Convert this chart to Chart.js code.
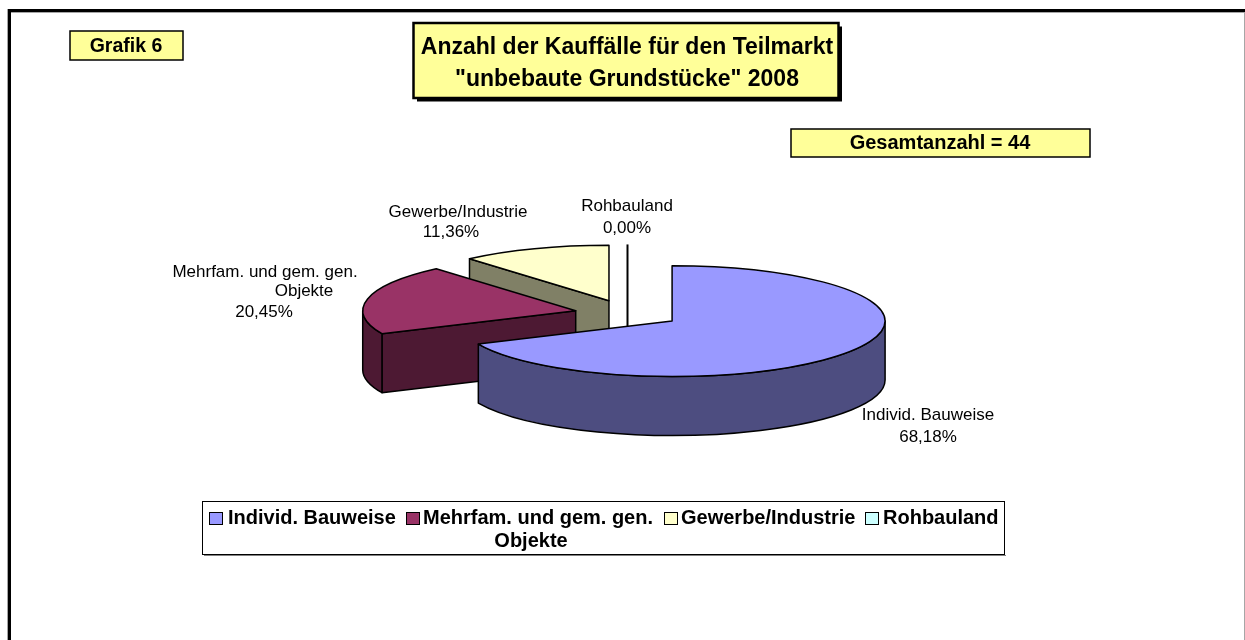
<!DOCTYPE html>
<html lang="de"><head><meta charset="utf-8">
<style>html,body{margin:0;padding:0;background:#fff;overflow:hidden}#w{position:absolute;left:0;top:0;width:1245px;height:640px}</style>
<script src="https://cdn.jsdelivr.net/npm/chart.js@4/dist/chart.umd.min.js"></script>
</head><body><div id="w"><canvas id="c" width="1245" height="640"></canvas></div>
<script>
const categories = ['Individ. Bauweise', 'Mehrfam. und gem. gen. Objekte', 'Gewerbe/Industrie', 'Rohbauland'];
const counts = [30, 9, 5, 0];
const percentLabels = ['68,18%', '20,45%', '11,36%', '0,00%'];
const topColors = ['#9999FF', '#993366', '#FFFFCC', '#CCFFFF'];
const wallColors = ['#4D4D80', '#4D1933', '#808066', '#668080'];
const titleLines = ['Anzahl der Kauffälle für den Teilmarkt', '"unbebaute Grundstücke" 2008'];
const badgeText = 'Grafik 6';
const totalText = 'Gesamtanzahl = 44';

const FONT = '"Liberation Sans", Arial, sans-serif';
const K = 0.26, DEPTH = 59, EXPLODE = 53, RADIUS = 213;
const CX = 627.5, CY = 313.6;

function sliceGeom(arc) {
  const h = (arc.startAngle + arc.endAngle) / 2;
  return { x: CX + Math.cos(h) * EXPLODE, y: CY + Math.sin(h) * EXPLODE * K, r: arc.outerRadius };
}
function rim(g, a, dz) { return [g.x + g.r * Math.cos(a), g.y + g.r * K * Math.sin(a) + (dz || 0)]; }

function poly(ctx, pts, fill) {
  ctx.beginPath();
  pts.forEach((p, i) => i ? ctx.lineTo(p[0], p[1]) : ctx.moveTo(p[0], p[1]));
  ctx.closePath();
  ctx.fillStyle = fill; ctx.fill(); ctx.stroke();
}

const pie3d = {
  id: 'pie3d',
  beforeDatasetDraw(chart, args) {
    const ctx = chart.ctx;
    const arcs = args.meta.data;
    ctx.save();
    ctx.strokeStyle = '#000'; ctx.lineWidth = 1.5; ctx.lineJoin = 'round';
    for (let i = arcs.length - 1; i >= 0; i--) {
      const arc = arcs[i], g = sliceGeom(arc), wall = wallColors[i];
      const s = arc.startAngle, e = arc.endAngle;
      if (e - s < 1e-6) {
        ctx.lineWidth = 2;
        ctx.beginPath(); ctx.moveTo(g.x, g.y + DEPTH); ctx.lineTo(g.x, g.y); ctx.lineTo(...rim(g, s)); ctx.stroke();
        ctx.lineWidth = 1.5;
        continue;
      }
      // radial cut faces that look toward the viewer
      if (-Math.cos(s) > 1e-6) poly(ctx, [[g.x, g.y], rim(g, s), rim(g, s, DEPTH), [g.x, g.y + DEPTH]], wall);
      if (Math.cos(e) > 1e-6) poly(ctx, [[g.x, g.y], rim(g, e), rim(g, e, DEPTH), [g.x, g.y + DEPTH]], wall);
      // outer wall: the part of the rim on the viewer's side
      const a0 = Math.max(s, 0), a1 = Math.min(e, Math.PI);
      if (a1 > a0) {
        ctx.beginPath();
        ctx.ellipse(g.x, g.y, g.r, g.r * K, 0, a0, a1);
        ctx.ellipse(g.x, g.y + DEPTH, g.r, g.r * K, 0, a1, a0, true);
        ctx.closePath();
        ctx.fillStyle = wall; ctx.fill(); ctx.stroke();
      }
      // top face: filled by the library's own arc element, flattened
      ctx.save();
      ctx.translate(g.x, g.y); ctx.scale(1, K); ctx.translate(-arc.x, -arc.y);
      arc.draw(ctx);
      ctx.restore();
      ctx.beginPath();
      ctx.moveTo(g.x, g.y);
      ctx.ellipse(g.x, g.y, g.r, g.r * K, 0, s, e);
      ctx.closePath();
      ctx.stroke();
    }
    ctx.restore();
    return false;
  }
};

function box(ctx, x, y, w, h, fill, lw, shadow) {
  if (shadow) { ctx.fillStyle = '#000'; ctx.fillRect(x + shadow, y + shadow, w, h); }
  ctx.fillStyle = fill; ctx.fillRect(x, y, w, h);
  ctx.strokeStyle = '#000'; ctx.lineWidth = lw; ctx.strokeRect(x, y, w, h);
}
function text(ctx, s, x, y, font, align) {
  ctx.font = font; ctx.textAlign = align || 'center'; ctx.textBaseline = 'middle'; ctx.fillStyle = '#000';
  ctx.fillText(s, x, y);
}

const furniture = {
  id: 'furniture',
  afterDraw(chart) {
    const ctx = chart.ctx;
    ctx.save();
    // outer frame
    ctx.fillStyle = '#a6a6a6';
    ctx.fillRect(7, 9, 1, 631); ctx.fillRect(11, 12, 1234, 1); ctx.fillRect(1244, 12, 1, 628);
    ctx.fillStyle = '#000';
    ctx.fillRect(8, 9, 3, 631); ctx.fillRect(8, 9, 1237, 3);

    box(ctx, 70, 31, 113, 29, '#FFFF99', 1.5, 0);
    text(ctx, badgeText, 126, 46.5, 'bold 19.5px ' + FONT);

    box(ctx, 413.5, 23, 425, 75, '#FFFF99', 2.5, 3.5);
    text(ctx, titleLines[0], 627, 48, 'bold 23px ' + FONT);
    text(ctx, titleLines[1], 627, 80, 'bold 23px ' + FONT);

    box(ctx, 791, 129, 299, 28, '#FFFF99', 1.5, 0);
    text(ctx, totalText, 940, 143.5, 'bold 20px ' + FONT);

    const lf = '17px ' + FONT;
    text(ctx, categories[2], 458, 212, lf); text(ctx, percentLabels[2], 451, 232, lf);
    text(ctx, categories[3], 627, 206, lf); text(ctx, percentLabels[3], 627, 228, lf);
    text(ctx, 'Mehrfam. und gem. gen.', 265, 272, lf);
    text(ctx, 'Objekte', 304, 291, lf);
    text(ctx, percentLabels[1], 264, 312, lf);
    text(ctx, categories[0], 928, 415, lf); text(ctx, percentLabels[0], 928, 437, lf);

    // legend
    ctx.fillStyle = '#808080'; ctx.fillRect(204, 555, 802, 1);
    ctx.fillStyle = '#fff'; ctx.fillRect(203, 502, 802, 53);
    ctx.strokeStyle = '#000'; ctx.lineWidth = 1; ctx.strokeRect(202.5, 501.5, 802, 53);
    const lg = 'bold 20px ' + FONT;
    const mx = [209, 406, 664, 865], tx = [228, 423, 681, 883];
    const names = [categories[0], 'Mehrfam. und gem. gen.', categories[2], categories[3]];
    names.forEach((n, i) => {
      ctx.fillStyle = topColors[i]; ctx.fillRect(mx[i], 512, 13, 12);
      ctx.strokeStyle = '#000'; ctx.lineWidth = 1; ctx.strokeRect(mx[i] + .5, 512.5, 13, 12);
      text(ctx, n, tx[i], 518.5, lg, 'left');
    });
    text(ctx, 'Objekte', 531, 541, lg);
    ctx.restore();
  }
};

new Chart(document.getElementById('c'), {
  type: 'pie',
  data: { labels: categories, datasets: [{ data: counts, backgroundColor: topColors, borderWidth: 0, radius: RADIUS }] },
  options: {
    responsive: false, animation: false,
    layout: { padding: 0 },
    events: [],
    plugins: { legend: { display: false }, title: { display: false }, tooltip: { enabled: false } }
  },
  plugins: [pie3d, furniture]
});
</script></body></html>
